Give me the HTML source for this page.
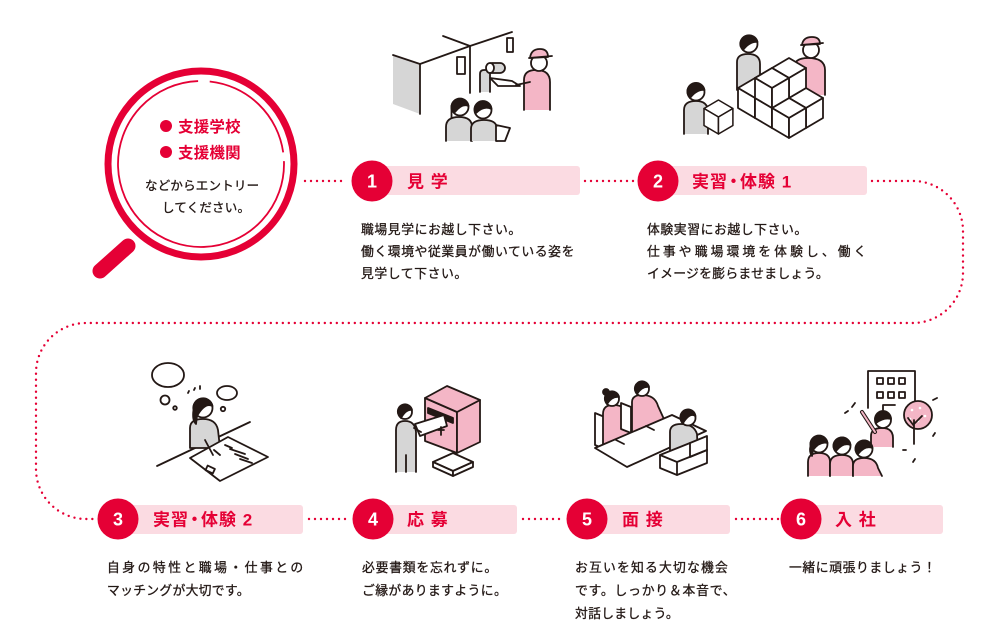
<!DOCTYPE html>
<html><head><meta charset="utf-8">
<style>
html,body{margin:0;padding:0;background:#fff;}
svg{display:block;}
.t{font-family:"Liberation Sans","Noto Sans CJK JP",sans-serif;font-size:12.8px;fill:#231815;stroke:#231815;stroke-width:0.3px;letter-spacing:0.6px;}
.lb{font-family:"Liberation Sans","Noto Sans CJK JP",sans-serif;font-size:17px;font-weight:bold;fill:#e50035;letter-spacing:1px;}
.mg{font-family:"Liberation Sans","Noto Sans CJK JP",sans-serif;font-size:15.5px;font-weight:bold;fill:#e50035;letter-spacing:0.2px;}
.n{font-family:"Liberation Sans",sans-serif;font-size:18px;font-weight:bold;fill:#fff;}
.dot{fill:none;stroke:#e50035;stroke-width:2.4;stroke-linecap:round;stroke-dasharray:0 6;}
.s{stroke:#231815;stroke-width:1.8;stroke-linejoin:round;stroke-linecap:round;}
</style></head><body>
<svg width="1000" height="640" viewBox="0 0 1000 640" xmlns="http://www.w3.org/2000/svg">
<defs>
<g id="cube">
<polygon points="0,10 17,0 34,10 17,20" fill="#fff"/>
<polygon points="0,10 17,20 17,40 0,30" fill="#fff"/>
<polygon points="17,20 34,10 34,30 17,40" fill="#fff"/>
</g>
</defs>

<!-- Magnifier -->
<circle cx="201" cy="164" r="93" fill="#fff" stroke="#e50035" stroke-width="7"/>
<path d="M209.7,81.5 A83,83 0 0 1 283.2,152.4" fill="none" stroke="#e50035" stroke-width="1.8"/>
<path d="M283.95,161.1 A83,83 0 1 1 198.1,81.05" fill="none" stroke="#e50035" stroke-width="1.8"/>
<line x1="100" y1="271" x2="128" y2="246" stroke="#e50035" stroke-width="15" stroke-linecap="round"/>
<circle cx="166" cy="126" r="6" fill="#e50035"/>
<circle cx="166" cy="152" r="6" fill="#e50035"/>
<text class="mg" x="178" y="132">支援学校</text>
<text class="mg" x="178" y="158">支援機関</text>
<text class="t" x="145" y="190" style="font-size:12.5px;letter-spacing:0.2px">などからエントリー</text>
<text class="t" x="162" y="212" style="font-size:12.5px;letter-spacing:0.2px">してください。</text>

<!-- dotted connectors -->
<path class="dot" d="M305,181 H346"/>
<path class="dot" d="M585,181 H634"/>
<path class="dot" d="M872,181 H913 A50,50 0 0 1 963,231 V273 A50,50 0 0 1 913,323 H86 A50,50 0 0 0 36,373 V469 A50,50 0 0 0 86,519 H96"/>
<path class="dot" d="M309,519 H351"/>
<path class="dot" d="M523,519 H565"/>
<path class="dot" d="M736,519 H779"/>

<!-- Step bars -->
<rect x="372" y="166" width="208" height="29" rx="3" fill="#fbdbe2"/>
<circle cx="372" cy="181" r="20.5" fill="#e50035"/>
<text class="n" x="372" y="187.5" text-anchor="middle">1</text>
<text class="lb" x="407" y="187.5">見 学</text>

<rect x="658" y="166" width="209" height="29" rx="3" fill="#fbdbe2"/>
<circle cx="658" cy="181" r="20.5" fill="#e50035"/>
<text class="n" x="658" y="187.5" text-anchor="middle">2</text>
<text class="lb" x="692" y="187.5">実習<tspan dx="-3">・</tspan><tspan dx="-3">体験 1</tspan></text>

<rect x="118" y="505" width="185" height="29" rx="3" fill="#fbdbe2"/>
<circle cx="118" cy="519" r="20.5" fill="#e50035"/>
<text class="n" x="118" y="525.5" text-anchor="middle">3</text>
<text class="lb" x="153" y="525.5">実習<tspan dx="-3">・</tspan><tspan dx="-3">体験 2</tspan></text>

<rect x="373" y="505" width="144" height="29" rx="3" fill="#fbdbe2"/>
<circle cx="373" cy="519" r="20.5" fill="#e50035"/>
<text class="n" x="373" y="525.5" text-anchor="middle">4</text>
<text class="lb" x="407" y="525.5">応 募</text>

<rect x="587" y="505" width="143" height="29" rx="3" fill="#fbdbe2"/>
<circle cx="587" cy="519" r="20.5" fill="#e50035"/>
<text class="n" x="587" y="525.5" text-anchor="middle">5</text>
<text class="lb" x="622" y="525.5">面 接</text>

<rect x="801" y="505" width="142" height="29" rx="3" fill="#fbdbe2"/>
<circle cx="801" cy="519" r="20.5" fill="#e50035"/>
<text class="n" x="801" y="525.5" text-anchor="middle">6</text>
<text class="lb" x="835" y="525.5">入 社</text>

<!-- descriptions -->
<text class="t" x="361" y="234">職場見学にお越し下さい。</text>
<text class="t" x="361" y="256">働く環境や従業員が働いている姿を</text>
<text class="t" x="361" y="278">見学して下さい。</text>

<text class="t" x="647" y="234">体験実習にお越し下さい。</text>
<text class="t" x="647" y="256" style="letter-spacing:3.1px">仕事や職場環境を体験し、働く</text>
<text class="t" x="647" y="278" style="letter-spacing:0.3px">イメージを膨らませましょう。</text>

<text class="t" x="107" y="572" style="letter-spacing:2.5px">自身の特性と職場・仕事との</text>
<text class="t" x="107" y="595" style="letter-spacing:0.3px">マッチングが大切です。</text>

<text class="t" x="362" y="572" style="letter-spacing:0.8px">必要書類を忘れずに。</text>
<text class="t" x="362" y="595" style="letter-spacing:0.4px">ご縁がありますように。</text>

<text class="t" x="575" y="572" style="letter-spacing:1.2px">お互いを知る大切な機会</text>
<text class="t" x="575" y="595" style="letter-spacing:0.8px">です。しっかり＆本音で、</text>
<text class="t" x="575" y="618" style="letter-spacing:0.3px">対話しましょう。</text>

<text class="t" x="789" y="572" style="letter-spacing:0.6px">一緒に頑張りましょう！</text>

<!-- Illustration 1 -->
<g class="s">
<polygon points="393,55 420,64 420,114 393,104" fill="#d6d6d6" stroke="none"/>
<polyline points="393,55 420,64 470,46 512,32" fill="none"/>
<line x1="443" y1="36" x2="470" y2="46"/>
<line x1="420" y1="64" x2="420" y2="114"/>
<line x1="470" y1="46" x2="470" y2="93"/>
<rect x="457" y="57" width="8" height="17" fill="#fff"/>
<rect x="507" y="38" width="6" height="14" fill="#fff"/>
<path d="M480,92 V74 Q480,70 484,70 H490 V92" fill="#d6d6d6"/>
<rect x="487" y="63" width="18" height="10" rx="5" fill="#d6d6d6"/>
<ellipse cx="490" cy="68" rx="4" ry="5" fill="#fff"/>
<polygon points="490,78 512,81 520,86 498,86" fill="#fff"/>
<path d="M524,110 V80 Q524,70 536,70 Q550,70 550,82 V110" fill="#f4b6c6"/>
<path d="M530,82 L516,85" fill="none"/>
<circle cx="539" cy="63" r="8" fill="#fff"/>
<path d="M530,58 Q531,49 540,49 Q548,49 548,57 Z" fill="#f4b6c6"/>
<line x1="529" y1="58" x2="552" y2="56"/>
<path d="M446,141 V127 Q446,117 459,117 Q472,117 472,127 V141" fill="#d6d6d6"/>
<path d="M471,141 V129 Q471,120 484,120 Q497,120 497,129 V141" fill="#d6d6d6"/>
<polygon points="496,125 510,128 505,141 496,141" fill="#fff"/>
<circle cx="460" cy="107" r="8.5" fill="#fff"/>
<path d="M451.5,109 A8.5,8.5 0 0 1 468.5,106 Q462,103 455,112 Z" fill="#231815"/>
<path d="M451.5,107 V118" fill="none"/>
<circle cx="483" cy="110" r="8.5" fill="#fff"/>
<path d="M474.5,110 A8.5,8.5 0 0 1 491.5,109 Q484,105 476,113 Z" fill="#231815"/>
</g>

<!-- Illustration 2 -->
<g class="s">
<path d="M737,90 V62 Q737,54 748,54 Q760,54 760,64 V90" fill="#d6d6d6"/>
<circle cx="749" cy="44" r="8.5" fill="#fff"/>
<path d="M740.5,46 A8.5,8.5 0 0 1 757.5,42 Q750,41 743,50 Z" fill="#231815"/>
<path d="M794,95 V68 Q794,58 808,58 Q825,58 825,70 V95" fill="#f4b6c6"/>
<circle cx="811" cy="50" r="8" fill="#fff"/>
<path d="M802,45 Q803,37 812,37 Q820,37 820,44 Z" fill="#f4b6c6"/>
<line x1="801" y1="45" x2="823" y2="43"/>
<use href="#cube" x="755" y="68"/>
<use href="#cube" x="772" y="78"/>
<use href="#cube" x="738" y="78"/>
<use href="#cube" x="789" y="88"/>
<use href="#cube" x="755" y="88"/>
<use href="#cube" x="772" y="58"/>
<use href="#cube" x="772" y="98"/>
<use href="#cube" x="755" y="68"/>
<path d="M684,134 V110 Q684,101 696,101 Q708,101 708,112 V134" fill="#d6d6d6"/>
<circle cx="696" cy="92" r="8.5" fill="#fff"/>
<path d="M687.5,93 A8.5,8.5 0 0 1 704.5,90 Q697,89 690,98 Z" fill="#231815"/>
<g transform="translate(704,100) scale(0.85)"><use href="#cube"/></g>
</g>

<!-- Illustration 3 -->
<g class="s" fill="none">
<ellipse cx="168" cy="375" rx="16" ry="12"/>
<circle cx="165" cy="400" r="4.5"/>
<circle cx="175" cy="408" r="1.8"/>
<ellipse cx="227" cy="393" rx="10" ry="7"/>
<circle cx="223" cy="409" r="2.2"/>
<line x1="188" y1="393" x2="189" y2="391"/>
<line x1="194" y1="390" x2="195" y2="388"/>
<line x1="200" y1="389" x2="200" y2="386"/>
<line x1="157" y1="466" x2="250" y2="422"/>
<path d="M190,448 V428 Q190,419 203,419 Q216,419 218,430 L220,448 Z" fill="#d6d6d6"/>
<circle cx="203" cy="408" r="9.5" fill="#fff"/>
<path d="M193.5,410 A9.5,9.5 0 0 1 212.5,406 Q205,402 197,416 L196,424 Q192,420 193.5,410 Z" fill="#231815"/>
<polygon points="190,458 228,437 268,457 220,481" fill="#fff"/>
<line x1="225" y1="445" x2="232" y2="448"/>
<line x1="230" y1="449" x2="245" y2="454"/>
<line x1="235" y1="454" x2="248" y2="459"/>
<line x1="240" y1="459" x2="252" y2="463"/>
<rect x="206" y="467" width="8" height="5" transform="rotate(25 210 470)"/>
<path d="M205,440 L213,455" />
<path d="M214,450 L220,455" fill="#d6d6d6"/>
</g>

<!-- Illustration 4 -->
<g class="s">
<path d="M396,472 V430 Q396,421 405,421 Q415,421 416,432 V472" fill="#d6d6d6"/>
<line x1="406" y1="455" x2="406" y2="472"/>
<circle cx="405" cy="412" r="7" fill="#fff"/>
<path d="M398,413 A7,7 0 0 1 412,410 Q406,409 401,418 Z" fill="#231815"/>
<polygon points="433,462 453,453 473,462 453,471" fill="#fff"/>
<polygon points="433,462 453,471 453,476 433,467" fill="#fff"/>
<polygon points="453,471 473,462 473,467 453,476" fill="#fff"/>
<polygon points="425,398 457,412 457,453 425,441" fill="#f4b6c6"/>
<polygon points="457,412 480,400 480,442 457,453" fill="#f4b6c6"/>
<polygon points="425,398 447,386 480,400 457,412" fill="#f4b6c6"/>
<polygon points="428,408 453,418 453,423 428,413" fill="#231815"/>
<polygon points="415,424 444,415 447,426 420,436" fill="#fff"/>
<path d="M414,428 L421,432" fill="none"/>
<path d="M438,430 h6 M441,427 v8" fill="none"/>
</g>

<!-- Illustration 5 -->
<g class="s">
<polygon points="595,413 607,418 607,450 595,445" fill="#fff"/>
<path d="M603,445 V414 Q603,405 613,405 Q626,405 630,416 L640,440 Z" fill="#f4b6c6"/>
<circle cx="612" cy="399" r="7" fill="#fff"/>
<path d="M605,400 A7,7 0 0 1 619,397 Q612,396 607,404 Z" fill="#231815"/>
<circle cx="606" cy="392" r="3" fill="#231815"/>
<polygon points="621,403 631,407 631,433 621,429" fill="#fff"/>
<path d="M632,432 V402 Q632,395 642,395 Q655,395 658,406 L668,428 Z" fill="#f4b6c6"/>
<circle cx="642" cy="389" r="7" fill="#fff"/>
<path d="M635,390 A7,7 0 0 1 649,387 Q642,386 637,394 Z" fill="#231815"/>
<polygon points="595,448 672,415 706,431 627,467" fill="#fff"/>
<path d="M616,440 l8,4 M646,426 l8,4" fill="none"/>
<path d="M670,458 V432 Q670,424 681,424 Q694,424 697,434 L698,458 Z" fill="#d6d6d6"/>
<circle cx="688" cy="418" r="7.5" fill="#fff"/>
<path d="M680.5,418 A7.5,7.5 0 0 1 695.5,416 Q690,412 683,423 Z" fill="#231815"/>
<polygon points="660,455 690,443 707,450 707,463 677,475 660,468" fill="#fff"/>
<polygon points="690,443 707,436 707,450 690,457" fill="#fff"/>
<path d="M660,455 L677,462 L707,450 M677,462 V475" fill="none"/>
</g>

<!-- Illustration 6 -->
<g class="s">
<path d="M868,408 V371 H915 V408" fill="none"/>
<rect x="877" y="378" width="6" height="6" fill="#fff"/>
<rect x="888" y="378" width="6" height="6" fill="#fff"/>
<rect x="899" y="378" width="6" height="6" fill="#fff"/>
<rect x="877" y="392" width="6" height="6" fill="#fff"/>
<rect x="888" y="392" width="6" height="6" fill="#fff"/>
<rect x="899" y="392" width="6" height="6" fill="#fff"/>
<path d="M883,410 V405 H895" fill="none"/>
<circle cx="918" cy="415" r="14" fill="#f4b6c6"/>
<circle cx="912" cy="410" r="1.3" fill="#fff" stroke="none"/>
<circle cx="920" cy="408" r="1.3" fill="#fff" stroke="none"/>
<circle cx="925" cy="416" r="1.3" fill="#fff" stroke="none"/>
<circle cx="910" cy="419" r="1.3" fill="#fff" stroke="none"/>
<circle cx="918" cy="421" r="1.3" fill="#fff" stroke="none"/>
<path d="M914,444 V420 M914,426 L908,418 M914,424 L922,416" fill="none"/>
<path d="M871,447 V436 Q871,428 882,428 Q893,428 893,438 V447" fill="#f4b6c6"/>
<path d="M875,432 L862,412" fill="none" stroke-width="4"/>
<path d="M875,432 L862,412" fill="none" stroke="#f4b6c6" stroke-width="2"/>
<circle cx="883" cy="420" r="8" fill="#fff"/>
<path d="M875,419 A8,8 0 0 1 891,419 Q884,417 876,423 Z" fill="#231815"/>
<line x1="852" y1="407" x2="855" y2="403"/>
<line x1="845" y1="413" x2="848" y2="411"/>
<line x1="933" y1="400" x2="937" y2="398"/>
<line x1="933" y1="436" x2="935" y2="433"/>
<line x1="903" y1="450" x2="906" y2="450"/>
<line x1="913" y1="462" x2="915" y2="459"/>
<path d="M808,476 V462 Q808,453 819,453 Q830,453 830,462 V476" fill="#f4b6c6"/>
<path d="M830,476 V464 Q830,455 842,455 Q853,455 853,464 V476" fill="#f4b6c6"/>
<path d="M853,476 V466 Q853,458 864,458 Q876,458 878,468 L882,476" fill="#f4b6c6"/>
<circle cx="819" cy="444" r="8.5" fill="#fff"/>
<path d="M810.5,446 A8.5,8.5 0 0 1 827.5,443 Q820,441 813,450 L812,456 Q809,452 810.5,446 Z" fill="#231815"/>
<circle cx="842" cy="446" r="8.5" fill="#fff"/>
<path d="M833.5,447 A8.5,8.5 0 0 1 850.5,445 Q843,442 836,451 Z" fill="#231815"/>
<circle cx="864" cy="449" r="8.5" fill="#fff"/>
<path d="M855.5,450 A8.5,8.5 0 0 1 872.5,448 Q865,445 858,454 Z" fill="#231815"/>
</g>
</svg>
</body></html>
